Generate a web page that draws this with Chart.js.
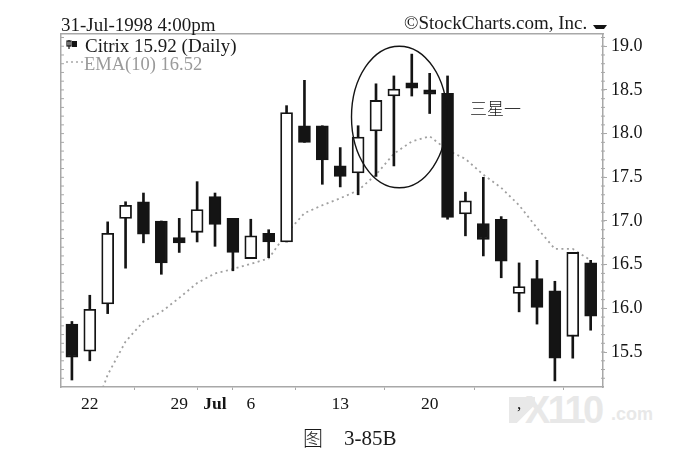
<!DOCTYPE html>
<html>
<head>
<meta charset="utf-8">
<script src="https://cdn.jsdelivr.net/npm/chart.js@4"></script>
<style>
  html, body { margin: 0; padding: 0; background: #fff; }
  #wrap { position: relative; width: 689px; height: 461px; overflow: hidden; font-family: 'Liberation Serif', serif; color: #1a1a1a; }
  #wrap canvas { position: absolute; left: 0; top: 0; }
  .txt { position: absolute; white-space: nowrap; line-height: 1; }
  #wmark { position: absolute; left: 509px; top: 397px; width: 26px; height: 26px; background: #e8e8e8; clip-path: polygon(0 0, 100% 0, 100% 30%, 30% 100%, 0 100%); }
</style>
</head>
<body>
<div id="wrap">
  <div id="wmark"></div>
  <div class="txt" style="left:525px;top:391px;font-size:38px;font-weight:bold;font-family:'Liberation Sans';color:#e8e8e8;letter-spacing:-2.5px;">X110</div>
  <div class="txt" style="left:611px;top:405px;font-size:18px;font-weight:bold;font-family:'Liberation Sans';color:#e8e8e8;">.com</div>
  <canvas id="c" width="689" height="461"></canvas>
  <div class="txt" style="left:61px;top:15px;font-size:19px;">31-Jul-1998 4:00pm</div>
  <div class="txt" style="left:404px;top:13px;font-size:19px;">©StockCharts.com, Inc.</div>
  <div class="txt" style="left:85px;top:36px;font-size:19px;">Citrix 15.92 (Daily)</div>
  <div class="txt" style="left:84px;top:55px;font-size:18.5px;color:#9a9a9a;">EMA(10) 16.52</div>
  <div class="txt" style="left:470px;top:99px;font-size:17px;font-family:'Noto Sans CJK SC';font-weight:300;">三星一</div>
  <div class="txt" style="left:303px;top:428px;font-size:20px;font-family:'Noto Sans CJK SC';font-weight:300;">图</div>
  <div class="txt" style="left:344px;top:428px;font-size:21px;">3-85B</div>
</div>
<script>
// daily bars, June 19 to July 31 1998
const dayLabels = ['', '22', '', '', '', '', '29', '', 'Jul', '', '6', '', '', '', '', '13', '', '', '', '', '20', '', '', '', '', ',', '', '', '', ''];
const opens  = [15.82, 15.51, 16.05, 17.03, 17.22, 17.00, 16.81, 16.87, 17.28, 17.03, 16.57, 16.86, 16.76, 18.09, 18.09, 17.63, 17.55, 18.03, 18.43, 18.58, 18.50, 18.46, 17.08, 16.97, 17.02, 16.17, 16.34, 16.20, 15.68, 16.52];
const closes = [15.44, 15.99, 16.86, 17.18, 16.85, 16.52, 16.75, 17.13, 16.96, 16.64, 16.83, 16.76, 18.24, 17.90, 17.70, 17.51, 17.96, 18.38, 18.51, 18.52, 18.45, 17.04, 17.23, 16.79, 16.54, 16.25, 16.01, 15.43, 16.64, 15.91];
const highs  = [15.85, 16.15, 16.99, 17.22, 17.32, 17.00, 17.03, 17.45, 17.32, 17.03, 17.02, 16.90, 18.32, 18.61, 18.09, 17.84, 18.09, 18.57, 18.66, 18.91, 18.69, 18.66, 17.33, 17.50, 17.05, 16.52, 16.55, 16.31, 16.64, 16.55];
const lows   = [15.18, 15.40, 15.94, 16.46, 16.75, 16.39, 16.64, 16.76, 16.71, 16.43, 16.57, 16.58, 16.76, 17.90, 17.42, 17.39, 17.30, 17.51, 17.63, 18.43, 18.23, 17.02, 16.83, 16.60, 16.35, 15.96, 15.82, 15.17, 15.43, 15.75];
const ema    = [null, 14.68, 15.24, 15.62, 15.85, 15.96, 16.12, 16.29, 16.40, 16.45, 16.51, 16.57, 16.86, 17.09, 17.18, 17.26, 17.35, 17.53, 17.77, 17.91, 17.97, 17.81, 17.71, 17.53, 17.38, 17.18, 16.92, 16.68, 16.68, 16.55];
const priceTicks = [15.5, 16.0, 16.5, 17.0, 17.5, 18.0, 18.5, 19.0];
const minorTicks = [15.2, 15.3, 15.4, 15.6, 15.7, 15.8, 15.9, 16.1, 16.2, 16.3, 16.4, 16.6, 16.7, 16.8, 16.9, 17.1, 17.2, 17.3, 17.4, 17.6, 17.7, 17.8, 17.9, 18.1, 18.2, 18.3, 18.4, 18.6, 18.7, 18.8, 18.9, 19.1];
const dayIndex = dayLabels.map((_, i) => i);

const INK = '#141414';
const AXIS = '#a8a8a8';

// pattern ring, given in bar index / price units
const ring = { x: 18.3, y: 18.19, rx: 2.67, ry: 0.81 };

const extras = {
  id: 'extras',
  afterDatasetsDraw(chart) {
    const { ctx, scales: { x, y }, chartArea } = chart;
    const cx = x.getPixelForValue(ring.x), cy = y.getPixelForValue(ring.y);
    const rx = x.getPixelForValue(ring.x + ring.rx) - cx;
    const ry = y.getPixelForValue(ring.y - ring.ry) - cy;
    ctx.save();
    ctx.strokeStyle = INK;
    ctx.lineWidth = 1.4;
    ctx.beginPath();
    ctx.ellipse(cx, cy, rx, ry, 0, 0, Math.PI * 2);
    ctx.stroke();
    // minor ticks on the right and left edges
    ctx.strokeStyle = AXIS;
    ctx.lineWidth = 1;
    ctx.beginPath();
    minorTicks.concat(priceTicks).forEach(v => {
      const py = y.getPixelForValue(v);
      ctx.moveTo(chartArea.right - 2, py); ctx.lineTo(chartArea.right + 2, py);
      ctx.moveTo(chartArea.left - 1, py); ctx.lineTo(chartArea.left + 3, py);
    });
    ctx.stroke();
    // legend candle icon
    ctx.lineWidth = 1.2;
    ctx.strokeStyle = INK;
    ctx.fillStyle = INK;
    ctx.fillRect(chartArea.left + 11, 41, 5, 6);
    ctx.strokeRect(chartArea.left + 6, 41, 4, 5);
    ctx.beginPath();
    ctx.moveTo(chartArea.left + 8, 40); ctx.lineTo(chartArea.left + 8, 49);
    ctx.stroke();
    // legend line sample for the EMA
    ctx.strokeStyle = AXIS;
    ctx.lineWidth = 1.5;
    ctx.setLineDash([2, 3]);
    ctx.beginPath();
    ctx.moveTo(chartArea.left + 5, 62); ctx.lineTo(chartArea.left + 22, 62);
    ctx.stroke();
    ctx.setLineDash([]);
    // little marker top right
    ctx.fillStyle = INK;
    ctx.beginPath();
    ctx.moveTo(593, 25); ctx.lineTo(607, 25); ctx.lineTo(604, 29); ctx.lineTo(596, 29);
    ctx.closePath();
    ctx.fill();
    ctx.restore();
  }
};

new Chart(document.getElementById('c'), {
  data: {
    datasets: [
      {
        type: 'line',
        label: 'EMA(10)',
        data: dayIndex.map(i => ({ x: i, y: ema[i] })),
        borderColor: '#a0a0a0',
        borderWidth: 1.8,
        borderDash: [2, 3.5],
        pointRadius: 0,
        tension: 0,
        order: 3
      },
      {
        type: 'bar',
        label: 'wick',
        data: dayIndex.map(i => ({ x: i, y: [lows[i], highs[i]] })),
        backgroundColor: INK,
        barThickness: 2,
        grouped: false,
        order: 2
      },
      {
        type: 'bar',
        label: 'body',
        data: dayIndex.map(i => ({ x: i, y: [opens[i], closes[i]] })),
        backgroundColor: dayIndex.map(i => closes[i] >= opens[i] ? '#ffffff' : INK),
        borderColor: INK,
        borderWidth: 1.8,
        borderSkipped: false,
        barThickness: 12,
        grouped: false,
        order: 1
      }
    ]
  },
  plugins: [extras],
  options: {
    responsive: false,
    animation: false,
    layout: { padding: { left: 61, top: 34, right: 26, bottom: 34 } },
    plugins: { legend: { display: false }, tooltip: { enabled: false } },
    scales: {
      x: {
        type: 'linear',
        offset: false,
        min: -0.61,
        max: 29.69,
        afterFit: s => { s.height = 40; },
        afterBuildTicks: s => { s.ticks = dayIndex.filter(i => dayLabels[i] !== '').map(i => ({ value: i })); },
        border: { color: AXIS, width: 1.5, dash: [2, 1] },
        grid: { drawOnChartArea: false, drawTicks: true, tickLength: 3, color: AXIS },
        ticks: {
          autoSkip: false,
          maxRotation: 0,
          padding: 4,
          color: INK,
          font: ctx => ({
            family: "'Liberation Serif'",
            size: 17.5,
            weight: ctx.tick && dayLabels[ctx.tick.value] === 'Jul' ? 'bold' : 'normal'
          }),
          callback: v => dayLabels[v]
        }
      },
      xTop: {
        type: 'linear',
        position: 'top',
        offset: false,
        min: -0.61,
        max: 29.69,
        afterFit: s => { s.height = 0; },
        border: { color: AXIS, width: 1.5, dash: [2, 1] },
        grid: { drawOnChartArea: false, drawTicks: false },
        ticks: { display: false }
      },
      y: {
        position: 'right',
        min: 15.1,
        max: 19.14,
        afterFit: s => { s.width = 60; },
        afterBuildTicks: s => { s.ticks = priceTicks.map(v => ({ value: v })); },
        border: { color: AXIS, width: 1.5, dash: [2, 1] },
        grid: { drawOnChartArea: false, drawTicks: true, tickLength: 4, color: AXIS },
        ticks: {
          autoSkip: false,
          padding: 4,
          color: INK,
          font: { family: "'Liberation Serif'", size: 18 },
          callback: v => v.toFixed(1)
        }
      },
      yLeft: {
        position: 'left',
        min: 15.1,
        max: 19.14,
        afterFit: s => { s.width = 0; },
        border: { color: AXIS, width: 1.5, dash: [2, 1] },
        grid: { drawOnChartArea: false, drawTicks: false },
        ticks: { display: false }
      }
    }
  }
});
</script>
</body>
</html>
